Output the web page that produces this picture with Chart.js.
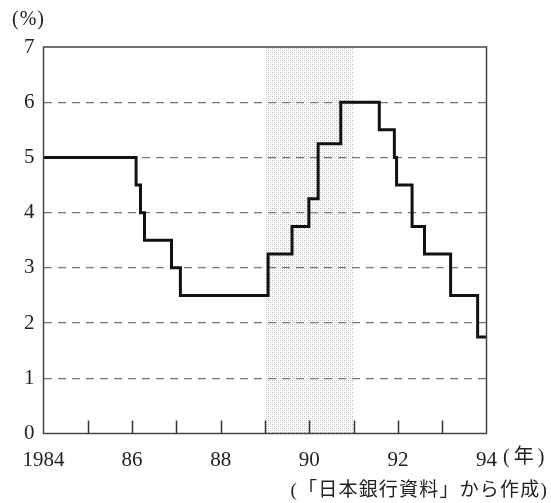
<!DOCTYPE html>
<html>
<head>
<meta charset="utf-8">
<script src="https://cdn.jsdelivr.net/npm/chart.js@4"></script>
<style>
  html, body { margin: 0; padding: 0; background: #fff; }
  #wrap { width: 551px; height: 503px; }
</style>
</head>
<body>
<div id="wrap"><canvas id="chart" width="551" height="503"></canvas></div>
<script>
// Dates des changements de taux (année décimale) et taux correspondants (%)
const changeDates = [1984.0, 1986.09, 1986.19, 1986.28, 1986.89, 1987.09, 1989.07, 1989.61, 1989.99,
    1990.2, 1990.71, 1991.58, 1991.92, 1991.97, 1992.32, 1992.6, 1993.19, 1993.8, 1994.0];
const rates = [5, 4.5, 4, 3.5, 3, 2.5, 3.25, 3.75, 4.25,
    5.25, 6, 5.5, 5, 4.5, 3.75, 3.25, 2.5, 1.75, 1.75];

// Période ombrée
const shadeStart = 1989;
const shadeEnd = 1991;

// Axes
const yearMin = 1984;
const yearMax = 1994;
const rateMax = 7;

const serif = "'Liberation Serif', 'Noto Sans CJK JP', serif";

// Motif pointillé pour la zone ombrée
function makeStipple() {
    const c = document.createElement('canvas');
    c.width = 4;
    c.height = 4;
    const g = c.getContext('2d');
    g.fillStyle = 'rgba(120,120,120,0.55)';
    g.fillRect(0, 0, 1, 1);
    g.fillRect(2, 2, 1, 1);
    g.fillStyle = 'rgba(150,150,150,0.35)';
    g.fillRect(2, 0, 1, 1);
    g.fillRect(0, 2, 1, 1);
    return g.createPattern(c, 'repeat');
}

const decorPlugin = {
    id: 'decor',
    beforeDatasetsDraw(chart) {
        const { ctx, chartArea, scales } = chart;
        const x0 = scales.x.getPixelForValue(shadeStart);
        const x1 = scales.x.getPixelForValue(shadeEnd);
        ctx.save();
        ctx.fillStyle = makeStipple();
        ctx.fillRect(x0, chartArea.top, x1 - x0, chartArea.bottom - chartArea.top);
        ctx.restore();
    },
    afterDraw(chart) {
        const { ctx, chartArea, scales } = chart;
        ctx.save();
        // cadre
        ctx.strokeStyle = '#444';
        ctx.lineWidth = 1.5;
        ctx.strokeRect(chartArea.left, chartArea.top, chartArea.right - chartArea.left, chartArea.bottom - chartArea.top);

        // graduations vers l'intérieur
        ctx.strokeStyle = '#333';
        ctx.lineWidth = 1.5;
        scales.x.ticks.forEach(t => {
            if (t.value === yearMin || t.value === yearMax) return;
            const px = Math.round(scales.x.getPixelForValue(t.value)) + 0.5;
            ctx.beginPath();
            ctx.moveTo(px, chartArea.bottom);
            ctx.lineTo(px, chartArea.bottom - 13);
            ctx.stroke();
        });

        // textes
        ctx.fillStyle = '#222';
        ctx.font = '20px ' + serif;
        ctx.textBaseline = 'middle';
        ctx.textAlign = 'left';
        ctx.letterSpacing = '1px';
        ctx.fillText('(%)', 12, 20);
        ctx.letterSpacing = '4px';
        ctx.fillText('(年)', 503, 458);
        ctx.textAlign = 'right';
        ctx.font = '19px ' + serif;
        ctx.letterSpacing = '1.2px';
        ctx.fillText('(「日本銀行資料」から作成)', 548, 491);
        ctx.restore();
    }
};

const ctx = document.getElementById('chart').getContext('2d');

new Chart(ctx, {
    type: 'line',
    data: {
        datasets: [{
            data: changeDates.map((d, i) => ({ x: d, y: rates[i] })),
            stepped: 'before',
            borderColor: '#111',
            borderWidth: 3,
            pointRadius: 0,
            fill: false
        }]
    },
    options: {
        responsive: false,
        animation: false,
        layout: { padding: { left: 0, top: 47, right: 64.5, bottom: 0 } },
        plugins: {
            legend: { display: false },
            tooltip: { enabled: false }
        },
        scales: {
            x: {
                type: 'linear',
                min: yearMin,
                max: yearMax,
                afterFit(scale) { scale.height = 69.5; },
                grid: { display: false },
                border: { display: false },
                ticks: {
                    stepSize: 1,
                    autoSkip: false,
                    maxRotation: 0,
                    padding: 6,
                    color: '#222',
                    font: { family: serif, size: 21 },
                    callback(v) {
                        if (v % 2 !== 0) return '';
                        return v === yearMin ? String(v) : String(v).slice(2);
                    }
                }
            },
            y: {
                min: 0,
                max: rateMax,
                afterFit(scale) { scale.width = 43.5; },
                grid: {
                    drawTicks: false,
                    color: ctx => (ctx.tick.value === 0 || ctx.tick.value === rateMax) ? 'rgba(0,0,0,0)' : '#777',
                    lineWidth: 1.2
                },
                border: { display: false, dash: [8, 6] },
                ticks: {
                    stepSize: 1,
                    padding: 9,
                    color: '#222',
                    font: { family: serif, size: 21 }
                }
            }
        }
    },
    plugins: [decorPlugin]
});
</script>
</body>
</html>
